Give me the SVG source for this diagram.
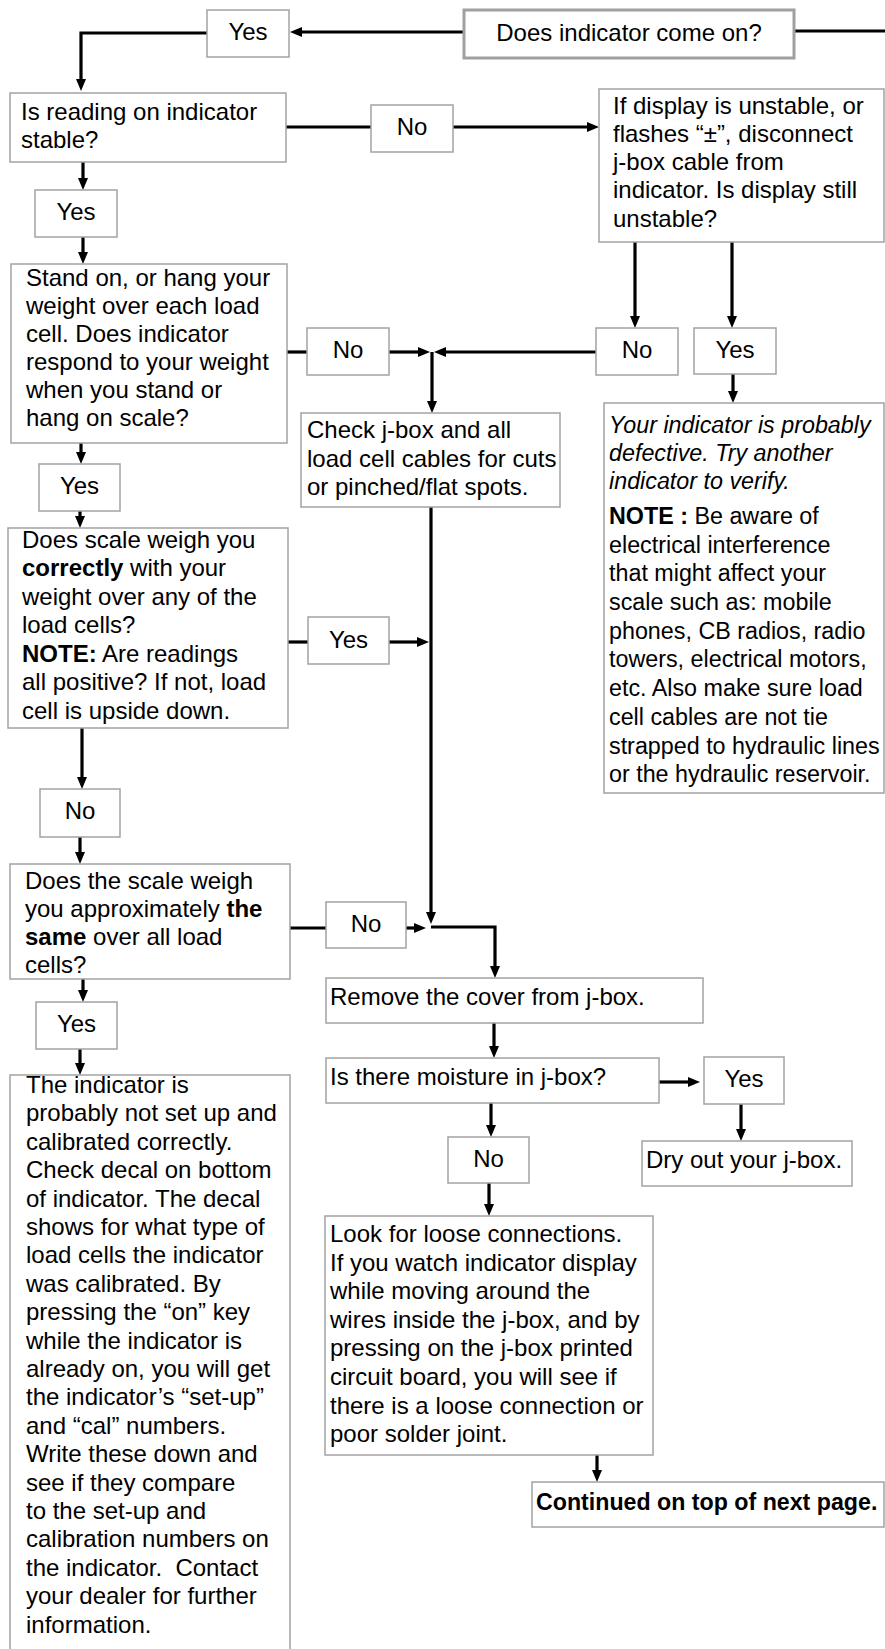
<svg xmlns="http://www.w3.org/2000/svg" width="885" height="1649" viewBox="0 0 885 1649">
<defs>
<marker id="ah" markerUnits="userSpaceOnUse" markerWidth="12" markerHeight="10" refX="2" refY="5" orient="auto"><path d="M0,0 L12,5 L0,10 z" fill="#000"/></marker>
<style>
.box{fill:#fff;stroke:#a3a3a3;stroke-width:1.5}
.main{fill:#fff;stroke:#a0a0a0;stroke-width:3}
.t{font-family:"Liberation Sans",Arial,sans-serif;font-size:24px;fill:#000}
.s{font-size:23.3px}
.m{text-anchor:middle}
.b{font-weight:bold}
.i{font-style:italic}
.c{fill:none;stroke:#000;stroke-width:3.2}
.a{marker-end:url(#ah)}
</style>
</defs>
<rect width="885" height="1649" fill="#fff"/>

<g id="connectors">
<path class="c a" d="M464,32 H300"/>
<path class="c" d="M794,31 H885"/>
<path class="c a" d="M207,33 H81 V81"/>
<path class="c" d="M286,127 H371"/>
<path class="c a" d="M453,127 H589"/>
<path class="c a" d="M83,162 V180"/>
<path class="c a" d="M83,237 V254"/>
<path class="c a" d="M635,242 V318"/>
<path class="c a" d="M732,242 V318"/>
<path class="c" d="M287,352 H307"/>
<path class="c a" d="M389,352 H420"/>
<path class="c a" d="M596,352 H444"/>
<path class="c a" d="M432,352 V403"/>
<path class="c a" d="M733,374 V393"/>
<path class="c a" d="M81,443 V454"/>
<path class="c a" d="M80,511 V518"/>
<path class="c" d="M288,642 H308"/>
<path class="c a" d="M389,642 H419"/>
<path class="c a" d="M431,507 V914"/>
<path class="c a" d="M82,728 V779"/>
<path class="c a" d="M80,837 V854"/>
<path class="c" d="M290,928 H326"/>
<path class="c a" d="M406,928 H416"/>
<path class="c a" d="M431,927 H495 V968"/>
<path class="c a" d="M83,979 V992"/>
<path class="c a" d="M80,1049 V1065"/>
<path class="c a" d="M494,1023 V1048"/>
<path class="c a" d="M659,1082 H690"/>
<path class="c a" d="M741,1104 V1131"/>
<path class="c a" d="M491,1103 V1127"/>
<path class="c a" d="M489,1183 V1206"/>
<path class="c a" d="M597,1455 V1472"/>
</g>

<g id="n-yes1"><rect class="box" x="207" y="10" width="82" height="47"/><text class="t m" x="248" y="40">Yes</text></g>
<g id="n-start"><rect class="main" x="464" y="10" width="330" height="48"/><text class="t m" x="629" y="41">Does indicator come on?</text></g>

<g id="n-stable"><rect class="box" x="10" y="93" width="276" height="69"/>
<text class="t" x="21" y="120">Is reading on indicator</text>
<text class="t" x="21" y="148">stable?</text></g>
<g id="n-no1"><rect class="box" x="371" y="105" width="82" height="47"/><text class="t m" x="412" y="135">No</text></g>

<g id="n-display"><rect class="box" x="599" y="89" width="285" height="153"/>
<text class="t" x="613" y="114">If display is unstable, or</text>
<text class="t" x="613" y="142">flashes “±”, disconnect</text>
<text class="t" x="613" y="170">j-box cable from</text>
<text class="t" x="613" y="198">indicator. Is display still</text>
<text class="t" x="613" y="227">unstable?</text></g>

<g id="n-yes2"><rect class="box" x="35" y="190" width="82" height="47"/><text class="t m" x="76" y="220">Yes</text></g>

<g id="n-stand"><rect class="box" x="11" y="264" width="276" height="179"/>
<text class="t" x="26" y="286">Stand on, or hang your</text>
<text class="t" x="26" y="314">weight over each load</text>
<text class="t" x="26" y="342">cell. Does indicator</text>
<text class="t" x="26" y="370">respond to your weight</text>
<text class="t" x="26" y="398">when you stand or</text>
<text class="t" x="26" y="426">hang on scale?</text></g>

<g id="n-no2"><rect class="box" x="307" y="328" width="82" height="47"/><text class="t m" x="348" y="358">No</text></g>
<g id="n-no3"><rect class="box" x="596" y="328" width="82" height="47"/><text class="t m" x="637" y="358">No</text></g>
<g id="n-yes3"><rect class="box" x="694" y="328" width="82" height="46"/><text class="t m" x="735" y="358">Yes</text></g>

<g id="n-check"><rect class="box" x="301" y="413" width="259" height="94"/>
<text class="t" x="307" y="438">Check j-box and all</text>
<text class="t" x="307" y="467">load cell cables for cuts</text>
<text class="t" x="307" y="495">or pinched/flat spots.</text></g>

<g id="n-defective"><rect class="box" x="604" y="403" width="280" height="390"/>
<text class="t s i" x="609" y="433">Your indicator is probably</text>
<text class="t s i" x="609" y="461">defective. Try another</text>
<text class="t s i" x="609" y="489">indicator to verify.</text>
<text class="t s" x="609" y="524"><tspan class="b">NOTE :</tspan> Be aware of</text>
<text class="t s" x="609" y="553">electrical interference</text>
<text class="t s" x="609" y="581">that might affect your</text>
<text class="t s" x="609" y="610">scale such as: mobile</text>
<text class="t s" x="609" y="639">phones, CB radios, radio</text>
<text class="t s" x="609" y="667">towers, electrical motors,</text>
<text class="t s" x="609" y="696">etc. Also make sure load</text>
<text class="t s" x="609" y="725">cell cables are not tie</text>
<text class="t s" x="609" y="754">strapped to hydraulic lines</text>
<text class="t s" x="609" y="782">or the hydraulic reservoir.</text></g>

<g id="n-yes4"><rect class="box" x="39" y="464" width="81" height="47"/><text class="t m" x="79.5" y="494">Yes</text></g>

<g id="n-correct"><rect class="box" x="8" y="528" width="280" height="200"/>
<text class="t" x="22" y="548">Does scale weigh you</text>
<text class="t" x="22" y="576"><tspan class="b">correctly</tspan> with your</text>
<text class="t" x="22" y="605">weight over any of the</text>
<text class="t" x="22" y="633">load cells?</text>
<text class="t" x="22" y="662"><tspan class="b">NOTE:</tspan> Are readings</text>
<text class="t" x="22" y="690">all positive? If not, load</text>
<text class="t" x="22" y="719">cell is upside down.</text></g>

<g id="n-yes5"><rect class="box" x="308" y="617" width="81" height="47"/><text class="t m" x="348.5" y="648">Yes</text></g>
<g id="n-no4"><rect class="box" x="40" y="789" width="80" height="48"/><text class="t m" x="80" y="819">No</text></g>

<g id="n-same"><rect class="box" x="10" y="864" width="280" height="115"/>
<text class="t" x="25" y="889">Does the scale weigh</text>
<text class="t" x="25" y="917">you approximately <tspan class="b">the</tspan></text>
<text class="t" x="25" y="945"><tspan class="b">same</tspan> over all load</text>
<text class="t" x="25" y="973">cells?</text></g>

<g id="n-no5"><rect class="box" x="326" y="902" width="80" height="46"/><text class="t m" x="366" y="932">No</text></g>

<g id="n-cover"><rect class="box" x="326" y="978" width="377" height="45"/><text class="t" x="330" y="1005">Remove the cover from j-box.</text></g>

<g id="n-yes6"><rect class="box" x="36" y="1002" width="81" height="47"/><text class="t m" x="76.5" y="1032">Yes</text></g>

<g id="n-moisture"><rect class="box" x="326" y="1058" width="333" height="45"/><text class="t" x="330" y="1085">Is there moisture in j-box?</text></g>
<g id="n-yes7"><rect class="box" x="704" y="1057" width="80" height="47"/><text class="t m" x="744" y="1087">Yes</text></g>

<g id="n-calib"><rect class="box" x="10" y="1075" width="280" height="590"/>
<text class="t" x="26" y="1093">The indicator is</text>
<text class="t" x="26" y="1121.4">probably not set up and</text>
<text class="t" x="26" y="1149.8">calibrated correctly.</text>
<text class="t" x="26" y="1178.2">Check decal on bottom</text>
<text class="t" x="26" y="1206.6">of indicator. The decal</text>
<text class="t" x="26" y="1235">shows for what type of</text>
<text class="t" x="26" y="1263.4">load cells the indicator</text>
<text class="t" x="26" y="1291.8">was calibrated. By</text>
<text class="t" x="26" y="1320.2">pressing the “on” key</text>
<text class="t" x="26" y="1348.6">while the indicator is</text>
<text class="t" x="26" y="1377">already on, you will get</text>
<text class="t" x="26" y="1405.4">the indicator’s “set-up”</text>
<text class="t" x="26" y="1433.8">and “cal” numbers.</text>
<text class="t" x="26" y="1462.2">Write these down and</text>
<text class="t" x="26" y="1490.6">see if they compare</text>
<text class="t" x="26" y="1519">to the set-up and</text>
<text class="t" x="26" y="1547.4">calibration numbers on</text>
<text class="t" x="26" y="1575.8" xml:space="preserve">the indicator.  Contact</text>
<text class="t" x="26" y="1604.2">your dealer for further</text>
<text class="t" x="26" y="1632.6">information.</text></g>

<g id="n-no6"><rect class="box" x="448" y="1137" width="81" height="46"/><text class="t m" x="488.5" y="1167">No</text></g>
<g id="n-dry"><rect class="box" x="642" y="1141" width="210" height="45"/><text class="t" x="646" y="1168">Dry out your j-box.</text></g>

<g id="n-loose"><rect class="box" x="325" y="1216" width="328" height="239"/>
<text class="t" x="330" y="1242">Look for loose connections.</text>
<text class="t" x="330" y="1271">If you watch indicator display</text>
<text class="t" x="330" y="1299">while moving around the</text>
<text class="t" x="330" y="1328">wires inside the j-box, and by</text>
<text class="t" x="330" y="1356">pressing on the j-box printed</text>
<text class="t" x="330" y="1385">circuit board, you will see if</text>
<text class="t" x="330" y="1414">there is a loose connection or</text>
<text class="t" x="330" y="1442">poor solder joint.</text></g>

<g id="n-continued"><rect class="box" x="532" y="1482" width="352" height="45"/><text class="t b" x="536" y="1510" style="font-size:23.2px">Continued on top of next page.</text></g>
</svg>
